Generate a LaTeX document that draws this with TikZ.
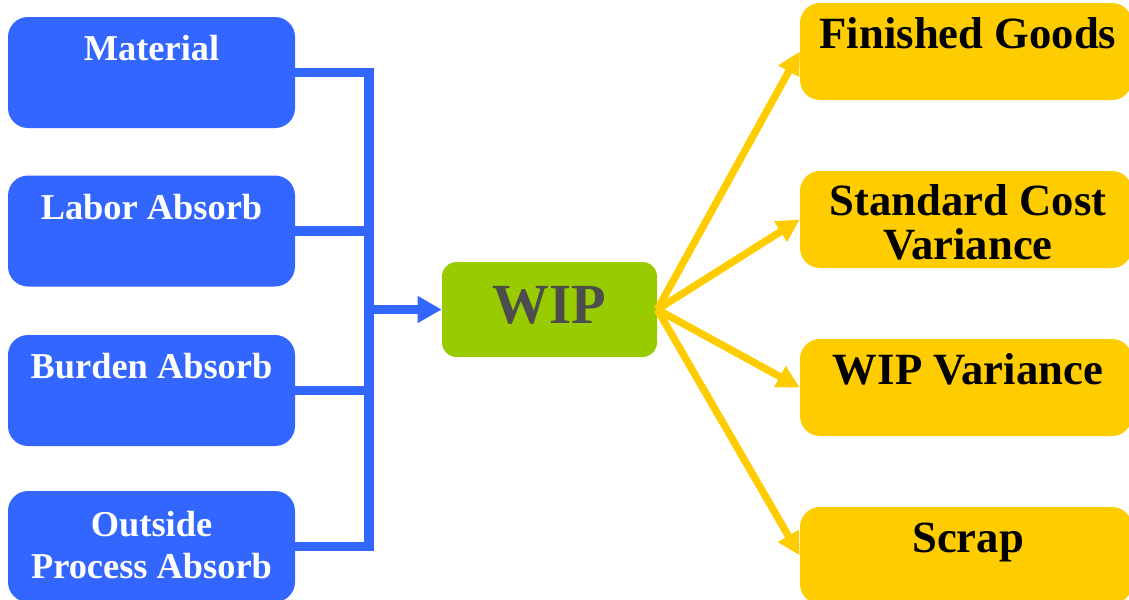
\documentclass[tikz,border=0pt]{standalone}
\usepackage{fontspec}
\setmainfont{Liberation Serif}
\usetikzlibrary{arrows.meta}
\definecolor{bblue}{HTML}{3366FF}
\definecolor{wgreen}{HTML}{99CC00}
\definecolor{gyellow}{HTML}{FFCC00}
\definecolor{wgray}{HTML}{4D4D4D}
\tikzset{
  bluebox/.style={fill=bblue, draw=none, rounded corners=15pt, inner sep=0pt,
    minimum width=215.25pt, minimum height=83.25pt},
  wipbox/.style={fill=wgreen, draw=none, rounded corners=11pt, inner sep=0pt,
    minimum width=161.25pt, minimum height=71.25pt},
  yelbox/.style={fill=gyellow, draw=none, rounded corners=15pt, inner sep=0pt,
    minimum width=249pt, minimum height=72.75pt},
  btext/.style={text=white, font=\bfseries\fontsize{27.3}{31.5}\selectfont, align=center, inner sep=0pt},
  ytext/.style={text=black, font=\bfseries\fontsize{33.5}{32.5}\selectfont, align=center, inner sep=0pt},
  wtext/.style={text=wgray, font=\bfseries\fontsize{42.5}{46}\selectfont, inner sep=0pt},
  bline/.style={draw=bblue, line width=6.8pt, line join=miter},
  barrow/.style={bline, -{Triangle[length=18pt,width=19pt]}},
  yarrow/.style={draw=gyellow, line width=5.5pt, -{Triangle[length=17pt,width=17pt]}},
}
\begin{document}
\begin{tikzpicture}[x=0.75pt,y=-0.75pt]
\clip (0,0) rectangle (1129,600);
\fill[white] (0,0) rectangle (1129,600);
% left boxes
\node[bluebox] (b1) at (151.5,72.5) {};
\node[bluebox] (b2) at (151.5,231) {};
\node[bluebox] (b3) at (151.5,390.5) {};
\node[bluebox] (b4) at (151.5,546.5) {};
\node[btext, anchor=base] (t1) at (151.5,60) {Material};
\node[btext, anchor=base] (t2) at (151.5,219) {Labor Absorb};
\node[btext, anchor=base] (t3) at (151.5,378) {Burden Absorb};
\node[btext, anchor=base] (t4) at (151.5,578) {Outside\\Process Absorb};
% WIP
\node[wipbox] (wip) at (549.5,309.5) {};
\node[wtext, anchor=base] (wt) at (549,323) {WIP};
% right boxes
\node[yelbox] (y1) at (966,51.5) {};
\node[yelbox] (y2) at (966,219.5) {};
\node[yelbox] (y3) at (966,387.5) {};
\node[yelbox] (y4) at (966,555.5) {};
\node[ytext, anchor=base] (s1) at (968,48) {Finished Goods};
\node[ytext, anchor=base] (s2) at (968,259) {Standard Cost\\Variance};
\node[ytext, anchor=base] (s3) at (968,384) {WIP Variance};
\node[ytext, anchor=base] (s4) at (968,552) {Scrap};
% connectors left
\coordinate (j) at (369,309.5);
\draw[bline] (b1.east) -| (j);
\draw[bline] (b4.east) -| (j);
\draw[bline] (b2.east) -- (b2.east -| j);
\draw[bline] (b3.east) -- (b3.east -| j);
\draw[barrow] (j) -- (wip.west);
% connectors right
\draw[yarrow] (wip.east) -- (y1.west);
\draw[yarrow] (wip.east) -- (y2.west);
\draw[yarrow] (wip.east) -- (y3.west);
\draw[yarrow] (wip.east) -- (y4.west);
\end{tikzpicture}
\end{document}
